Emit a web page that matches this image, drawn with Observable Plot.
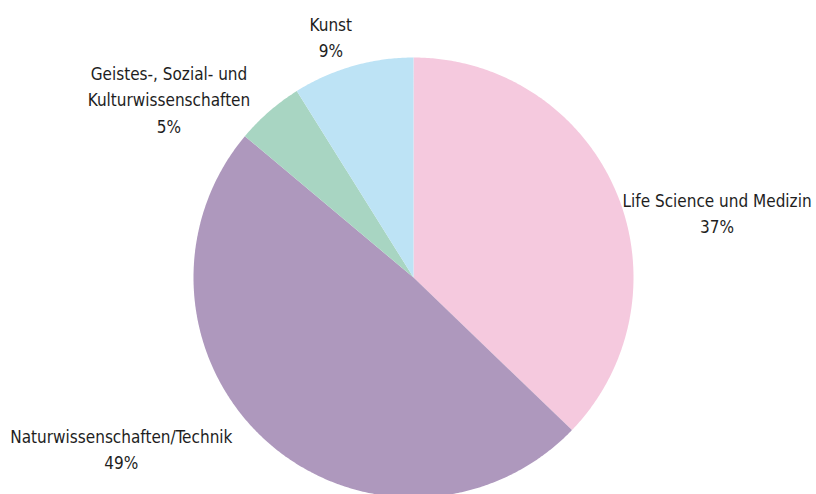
<!DOCTYPE html>
<html><head><meta charset="utf-8">
<script src="https://cdn.jsdelivr.net/npm/d3@7"></script>
<script src="https://cdn.jsdelivr.net/npm/@observablehq/plot@0.6"></script>
<style>body{margin:0;background:#fff;overflow:hidden}</style>
</head><body><div id="chart"></div>
<script>
// Data
const categories = ["Life Science und Medizin", "Naturwissenschaften/Technik", "Geistes-, Sozial- und\nKulturwissenschaften", "Kunst"];
const shares = [37.2, 48.9, 5.0, 8.9];
const colors = ["#f5c9de", "#ae98bd", "#a8d5c2", "#bde3f5"];

// Layout
const W = 816, H = 494, R = 220, CX = 413, CY = 277;
const FONT = "'DejaVu Sans Condensed', 'Liberation Sans Narrow', sans-serif";
const FS = 17;
const LH = 1.55;
const labelNudge = [[-10, 27], [-22, -7], [-7, 0], [-17, 13]];

const total = d3.sum(shares);
const arcs = d3.pie().sort(null).value(d => d)(shares);

// slice polygons in data units (radius = 1)
const slicePts = [];
arcs.forEach((a, i) => {
  slicePts.push({key: categories[i], x: 0, y: 0});
  const n = Math.max(4, Math.ceil((a.endAngle - a.startAngle) / (Math.PI / 360)));
  for (let k = 0; k <= n; k++) {
    const t = a.startAngle + (a.endAngle - a.startAngle) * k / n;
    slicePts.push({key: categories[i], x: Math.sin(t), y: Math.cos(t)});
  }
});

// measure text
const ctx = document.createElement("canvas").getContext("2d");
ctx.font = `${FS}px ${FONT}`;
const lineH = FS * LH;
const labels = arcs.map((a, i) => {
  const text = categories[i] + "\n" + Math.round(shares[i] / total * 100) + "%";
  const lines = text.split("\n");
  const w = d3.max(lines, l => ctx.measureText(l).width);
  const h = lines.length * lineH;
  const m = (a.startAngle + a.endAngle) / 2;
  const dx = Math.sin(m), dy = Math.cos(m);
  let px = CX + (R + 18) * dx, py = CY - (R + 18) * dy;
  if (dx > 0.5) px += w / 2; else if (dx < -0.5) px -= w / 2; else if (dy > 0) py -= h / 2; else py += h / 2;
  px += labelNudge[i][0]; py += labelNudge[i][1];
  return {text, x: (px - CX) / R, y: (CY - py) / R};
});

const chart = Plot.plot({
  width: W, height: H,
  margin: 0,
  x: {domain: [-CX / R, (W - CX) / R], axis: null},
  y: {domain: [-(H - CY) / R, CY / R], axis: null},
  color: {domain: categories, range: colors},
  marks: [
    Plot.line(slicePts, {x: "x", y: "y", z: "key", fill: "key", stroke: "none", curve: "linear-closed"}),
    Plot.text(labels, {x: "x", y: "y", text: "text", fontSize: FS, fontFamily: FONT, fill: "#1e1e1e", lineHeight: LH, textAnchor: "middle"})
  ],
  style: {background: "#fff", overflow: "hidden"}
});
document.getElementById("chart").append(chart);
</script>
</body></html>
